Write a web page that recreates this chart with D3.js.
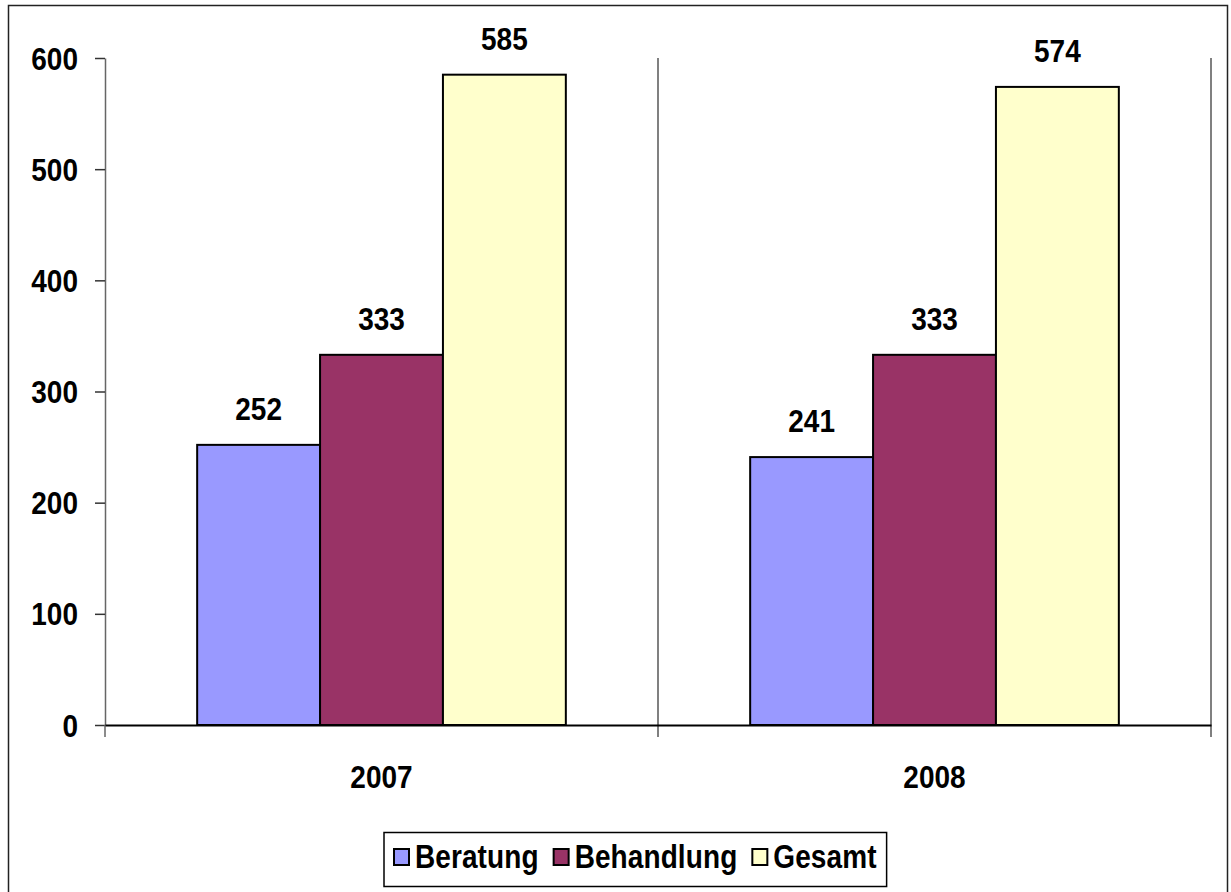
<!DOCTYPE html>
<html>
<head>
<meta charset="utf-8">
<script src="https://cdn.jsdelivr.net/npm/d3@7"></script>
<style>
  body { margin: 0; background: #fff; }
  text { font-family: Arial, "Liberation Sans", sans-serif; font-weight: bold; fill: #000;
         transform-box: fill-box; transform-origin: 50% 50%; transform: scaleY(1.1); }
  text.leg { transform: scaleY(1.18); }
</style>
</head>
<body>
<svg id="chart"></svg>
<script>
// chart data
const categories = ['2007', '2008'];
const seriesNames = ['Beratung', 'Behandlung', 'Gesamt'];
const beratung = [252, 241];
const behandlung = [333, 333];
const gesamt = [585, 574];
const yTicks = [0, 100, 200, 300, 400, 500, 600];
const colors = ['#9999FF', '#993366', '#FFFFCC'];

const w = 1231;
const h = 892;

const svg = d3.select('#chart')
    .attr('width', w)
    .attr('height', h);

// outer frame
svg.append('rect')
    .attr('x', 8.5).attr('y', 5.5)
    .attr('width', 1219).attr('height', 900)
    .attr('fill', '#fff')
    .attr('stroke', '#222')
    .attr('stroke-width', 1.5);

// scales
const x0 = d3.scaleBand().domain(categories).range([105, 1211]);
const x1 = d3.scaleBand().domain(seriesNames).range([0, x0.bandwidth()]).paddingOuter(0.75);
const y = d3.scaleLinear().domain([0, 600]).range([725, 58]);

// category gridlines (boundaries) + ticks below the axis
const bounds = categories.map(c => x0(c) + x0.bandwidth());
svg.append('g').selectAll('line')
    .data(bounds)
    .enter().append('line')
    .attr('x1', d => d).attr('x2', d => d)
    .attr('y1', y(600)).attr('y2', y(0) + 12)
    .attr('stroke', '#808080')
    .attr('stroke-width', 2);

// y axis
const yAxis = d3.axisLeft(y)
    .tickValues(yTicks)
    .tickSize(10)
    .tickSizeOuter(0)
    .tickPadding(17);
const gy = svg.append('g')
    .attr('transform', 'translate(105,0)')
    .call(yAxis);
gy.select('.domain').attr('stroke', '#666').attr('stroke-width', 1.5);
gy.selectAll('.tick line').attr('stroke', '#333').attr('stroke-width', 1.5);
gy.selectAll('.tick text').style('font-size', '28px').attr('dy', '0.36em');
// extend y axis line below zero
svg.append('line')
    .attr('x1', 105).attr('x2', 105)
    .attr('y1', y(0)).attr('y2', y(0) + 12)
    .attr('stroke', '#666').attr('stroke-width', 1.5);

// bars
const rows = categories.map((c, i) => ({ cat: c, vals: [beratung[i], behandlung[i], gesamt[i]] }));
const groups = svg.append('g').selectAll('g')
    .data(rows)
    .enter().append('g')
    .attr('transform', d => 'translate(' + x0(d.cat) + ',0)');

groups.selectAll('rect')
    .data(d => d.vals.map((v, j) => ({ name: seriesNames[j], v: v, j: j })))
    .enter().append('rect')
    .attr('x', d => x1(d.name))
    .attr('y', d => y(d.v))
    .attr('width', x1.bandwidth())
    .attr('height', d => y(0) - y(d.v))
    .attr('fill', d => colors[d.j])
    .attr('stroke', '#000')
    .attr('stroke-width', 2);

// value labels
groups.selectAll('text.val')
    .data(d => d.vals.map((v, j) => ({ name: seriesNames[j], v: v })))
    .enter().append('text')
    .attr('class', 'val')
    .attr('x', d => x1(d.name) + x1.bandwidth() / 2)
    .attr('y', d => y(d.v) - 26)
    .attr('text-anchor', 'middle')
    .style('font-size', '28px')
    .text(d => d.v);

// x axis
const xAxis = d3.axisBottom(x0).tickSize(0).tickPadding(42);
const gx = svg.append('g')
    .attr('transform', 'translate(0,' + y(0) + ')')
    .call(xAxis);
gx.select('.domain').attr('stroke', '#000').attr('stroke-width', 2);
gx.selectAll('.tick text').style('font-size', '28px');

// legend
const legend = svg.append('g');
const legendBox = legend.append('rect')
    .attr('y', 832.5).attr('height', 54)
    .attr('fill', '#fff')
    .attr('stroke', '#000')
    .attr('stroke-width', 1.5);
let lx = 0;
seriesNames.forEach((name, i) => {
    const g = legend.append('g');
    g.append('rect')
        .attr('x', lx).attr('y', 849)
        .attr('width', 15).attr('height', 16)
        .attr('fill', colors[i])
        .attr('stroke', '#000')
        .attr('stroke-width', 2);
    const t = g.append('text')
        .attr('class', 'leg')
        .attr('x', lx + 21).attr('y', 866)
        .style('font-size', '28px')
        .style('letter-spacing', '0.1px')
        .text(name);
    lx += 21 + t.node().getComputedTextLength() + 15;
});
const totalW = lx - 15;
const lStart = 394;
legend.selectAll('g').attr('transform', 'translate(' + lStart + ',0)');
legendBox.attr('x', lStart - 10).attr('width', totalW + 20);
</script>
</body>
</html>
